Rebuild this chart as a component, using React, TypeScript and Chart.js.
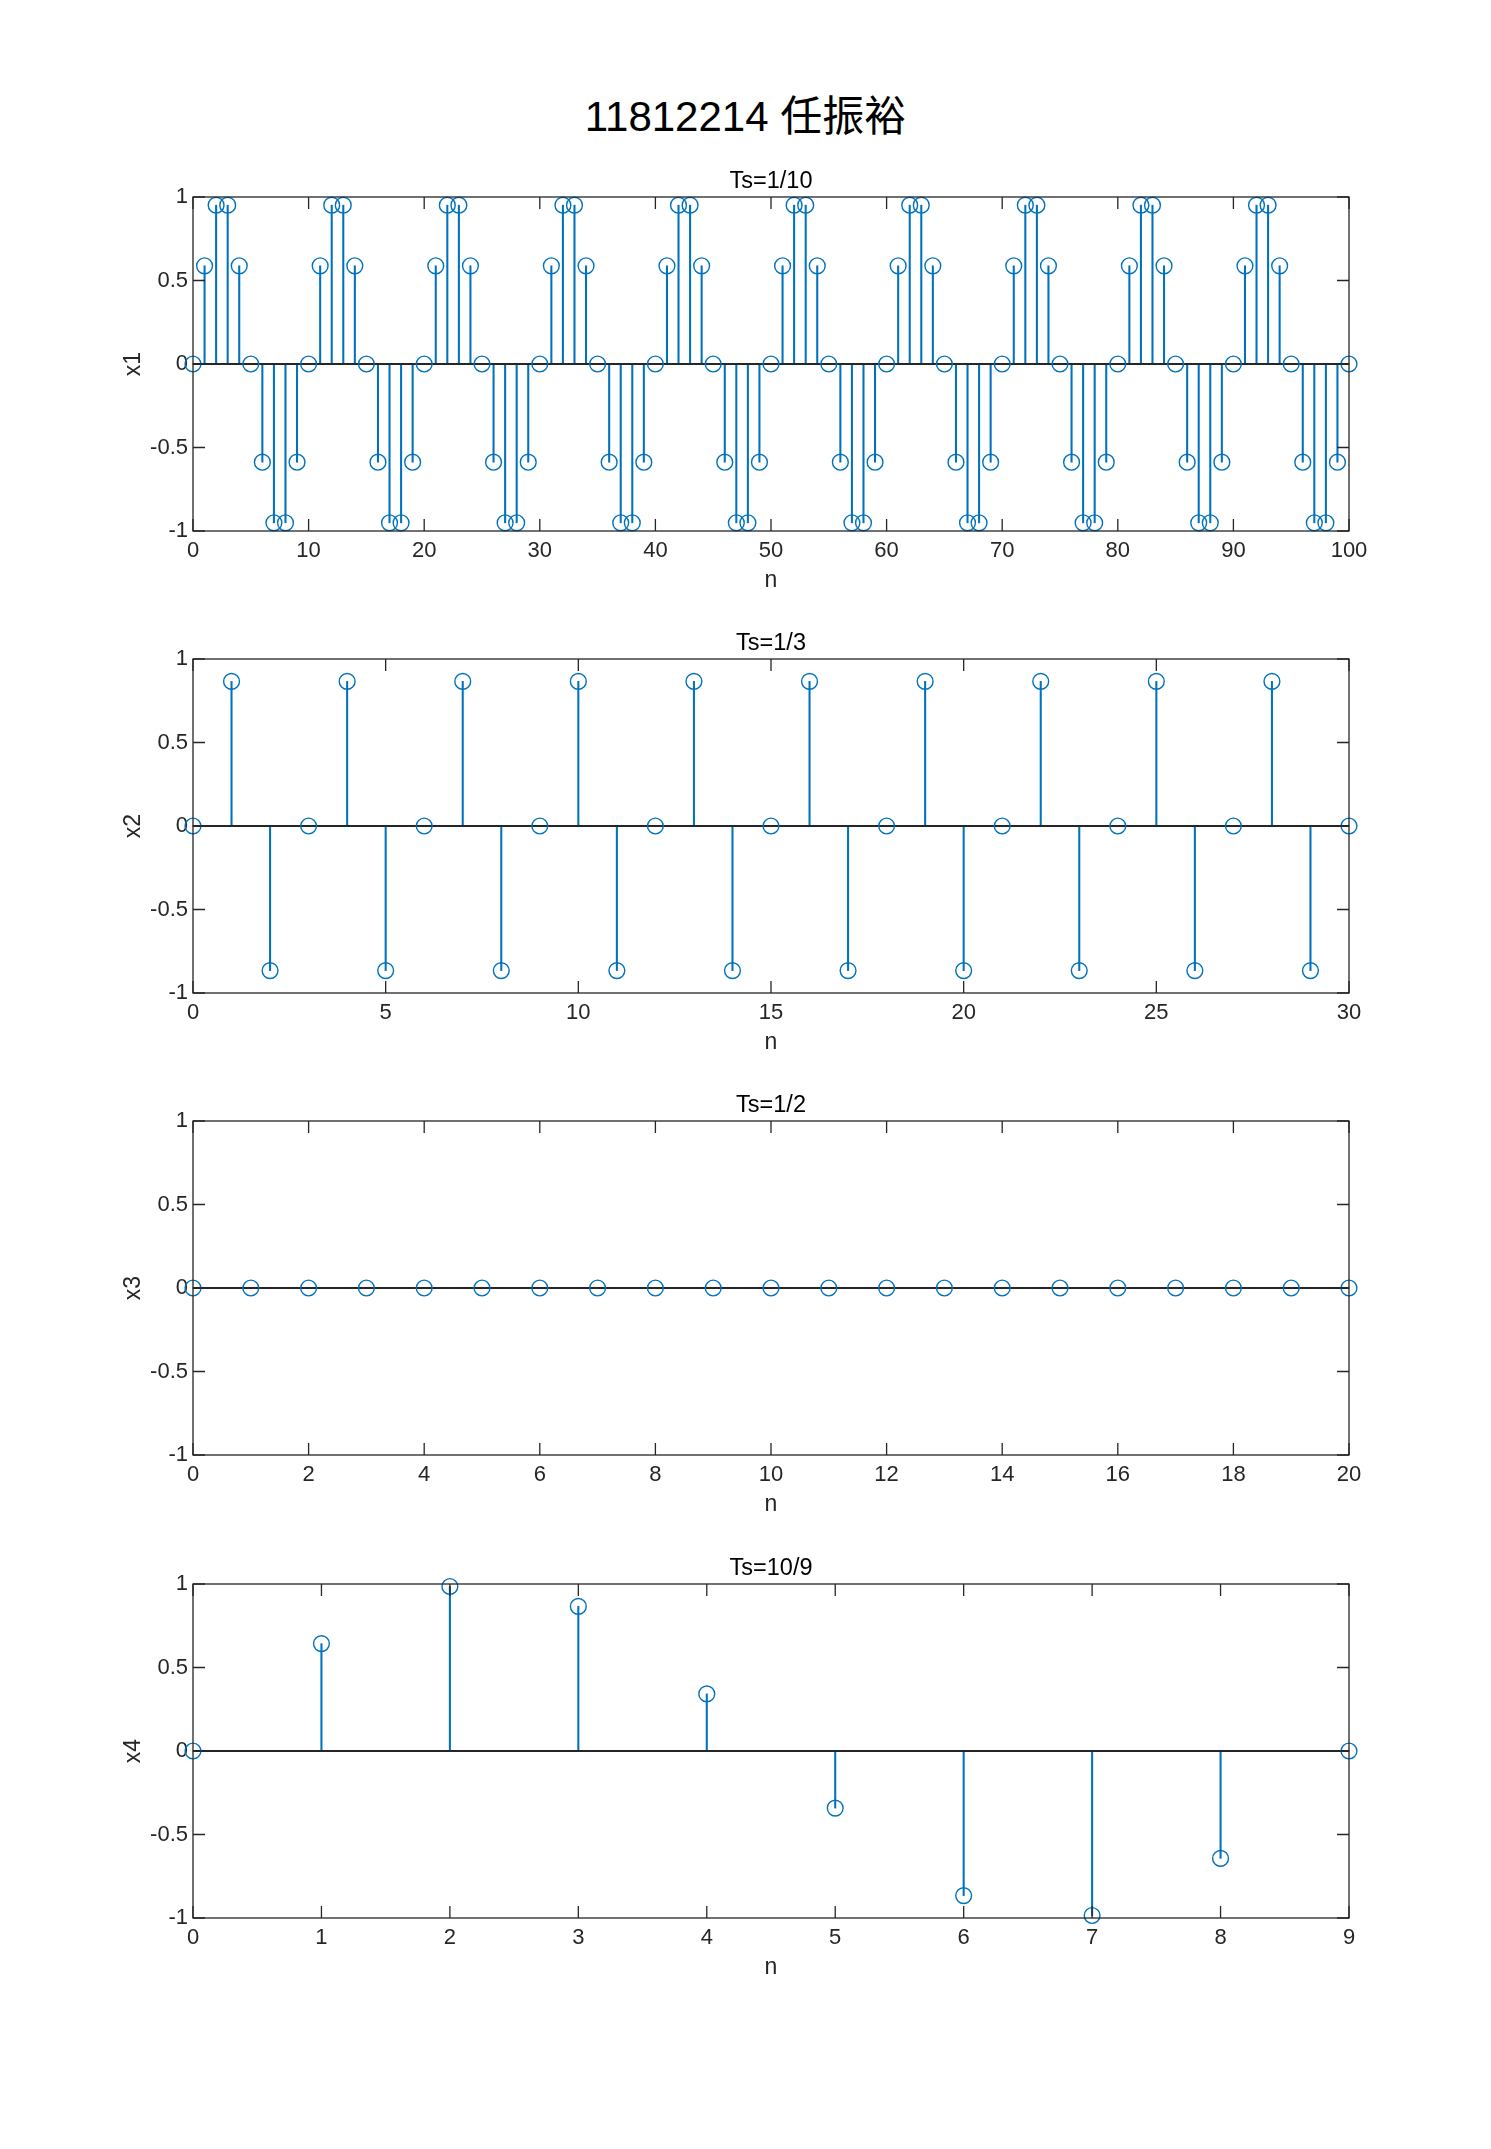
import React, { useEffect, useRef } from 'react';
import { Chart, registerables } from 'chart.js';

Chart.register(...registerables);

// ---------- data ----------
const figureTitle = '11812214 任振裕';

const x1Values = [
  0, 0.588, 0.951, 0.951, 0.588, 0, -0.588, -0.951, -0.951, -0.588,
  0, 0.588, 0.951, 0.951, 0.588, 0, -0.588, -0.951, -0.951, -0.588,
  0, 0.588, 0.951, 0.951, 0.588, 0, -0.588, -0.951, -0.951, -0.588,
  0, 0.588, 0.951, 0.951, 0.588, 0, -0.588, -0.951, -0.951, -0.588,
  0, 0.588, 0.951, 0.951, 0.588, 0, -0.588, -0.951, -0.951, -0.588,
  0, 0.588, 0.951, 0.951, 0.588, 0, -0.588, -0.951, -0.951, -0.588,
  0, 0.588, 0.951, 0.951, 0.588, 0, -0.588, -0.951, -0.951, -0.588,
  0, 0.588, 0.951, 0.951, 0.588, 0, -0.588, -0.951, -0.951, -0.588,
  0, 0.588, 0.951, 0.951, 0.588, 0, -0.588, -0.951, -0.951, -0.588,
  0, 0.588, 0.951, 0.951, 0.588, 0, -0.588, -0.951, -0.951, -0.588,
  0,
];

const x2Values = [
  0, 0.866, -0.866, 0, 0.866, -0.866, 0, 0.866, -0.866, 0,
  0.866, -0.866, 0, 0.866, -0.866, 0, 0.866, -0.866, 0, 0.866,
  -0.866, 0, 0.866, -0.866, 0, 0.866, -0.866, 0, 0.866, -0.866,
  0,
];

const x3Values = [
  0, 0, 0, 0, 0, 0, 0, 0, 0, 0,
  0, 0, 0, 0, 0, 0, 0, 0, 0, 0,
  0,
];

const x4Values = [0, 0.643, 0.985, 0.866, 0.342, -0.342, -0.866, -0.985, -0.643, 0];

const panelTitles = ['Ts=1/10', 'Ts=1/3', 'Ts=1/2', 'Ts=10/9'];
const panelYLabels = ['x1', 'x2', 'x3', 'x4'];
const panelXMax = [100, 30, 20, 9];
const panelXStep = [10, 5, 2, 1];
const panelValues = [x1Values, x2Values, x3Values, x4Values];
const xAxisLabel = 'n';
const yMin = -1;
const yMax = 1;
const yStep = 0.5;

// ---------- style / layout ----------
const BLUE = '#0072BD';
const AXIS = '#262626';
const FONT = "'Liberation Sans', Arial, Helvetica, sans-serif";
const PAGE_W = 1491;
const PAGE_H = 2149;
const PLOT_TOPS = [197, 659, 1121, 1584];
const PLOT_LEFT = 193;
const PLOT_RIGHT = 1349;
const PLOT_H = 334;
const TOP_SPACE = 40;
const X_AXIS_H = 67;
const Y_AXIS_W = 80;
const BOTTOM_PAD = 10;
const CANVAS_H = TOP_SPACE + PLOT_H + X_AXIS_H + BOTTOM_PAD;

const boxPlugin = {
  id: 'matlabBox',
  afterDraw(chart: any) {
    const { ctx, chartArea: a, scales } = chart;
    const x = scales.x;
    const y = scales.y;
    const L = 12;
    ctx.save();
    ctx.strokeStyle = AXIS;
    ctx.lineWidth = 1.3;
    ctx.strokeRect(a.left, a.top, a.right - a.left, a.bottom - a.top);
    ctx.beginPath();
    x.ticks.forEach((t: any) => {
      const px = x.getPixelForValue(t.value);
      ctx.moveTo(px, a.bottom);
      ctx.lineTo(px, a.bottom - L);
      ctx.moveTo(px, a.top);
      ctx.lineTo(px, a.top + L);
    });
    y.ticks.forEach((t: any) => {
      const py = y.getPixelForValue(t.value);
      ctx.moveTo(a.left, py);
      ctx.lineTo(a.left + L, py);
      ctx.moveTo(a.right, py);
      ctx.lineTo(a.right - L, py);
    });
    ctx.stroke();
    ctx.restore();
  },
};

function StemPanel({ idx }: { idx: number }) {
  const ref = useRef<HTMLCanvasElement | null>(null);
  useEffect(() => {
    const values = panelValues[idx];
    const xMax = panelXMax[idx];
    const pts = values.map((v, i) => ({ x: i, y: v }));
    const chart = new Chart(ref.current as HTMLCanvasElement, {
      type: 'scatter',
      data: {
        datasets: [
          {
            type: 'scatter',
            data: pts,
            pointStyle: 'circle',
            pointRadius: 7.9,
            pointBorderWidth: 1.4,
            pointBorderColor: BLUE,
            pointBackgroundColor: 'rgba(0,0,0,0)',
            clip: false,
            order: 0,
          } as any,
          {
            type: 'line',
            data: [
              { x: 0, y: 0 },
              { x: xMax, y: 0 },
            ],
            borderColor: AXIS,
            borderWidth: 2,
            pointRadius: 0,
            clip: false,
            order: 1,
          } as any,
          {
            type: 'bar',
            data: pts,
            backgroundColor: BLUE,
            barThickness: 1.4,
            borderWidth: 0,
            clip: false,
            order: 2,
          } as any,
        ],
      },
      options: {
        animation: false,
        responsive: false,
        devicePixelRatio: 1,
        events: [],
        layout: {
          padding: {
            left: PLOT_LEFT - Y_AXIS_W,
            right: PAGE_W - PLOT_RIGHT,
            top: 0,
            bottom: BOTTOM_PAD,
          },
        },
        plugins: {
          legend: { display: false },
          tooltip: { enabled: false },
          title: {
            display: true,
            text: panelTitles[idx],
            fullSize: false,
            color: '#000000',
            font: { family: FONT, size: 23.5, weight: 'normal', lineHeight: 1.2 },
            padding: { top: 10.6, bottom: 1.2 },
          },
        },
        scales: {
          x: {
            type: 'linear',
            min: 0,
            max: xMax,
            offset: false,
            grid: { display: false, drawTicks: false },
            border: { display: false },
            ticks: {
              stepSize: panelXStep[idx],
              padding: 7,
              color: AXIS,
              maxRotation: 0,
              autoSkip: false,
              font: { family: FONT, size: 22 },
              callback: (v: any) => String(v),
            },
            title: {
              display: true,
              text: xAxisLabel,
              color: AXIS,
              font: { family: FONT, size: 23, lineHeight: 1.2 },
              padding: { top: 0, bottom: 4 },
            },
            afterFit: (s: any) => {
              s.height = X_AXIS_H;
            },
          },
          y: {
            type: 'linear',
            min: yMin,
            max: yMax,
            grid: { display: false, drawTicks: false },
            border: { display: false },
            ticks: {
              stepSize: yStep,
              padding: 5,
              color: AXIS,
              font: { family: FONT, size: 22 },
              callback: (v: any) => String(v),
            },
            title: {
              display: true,
              text: panelYLabels[idx],
              color: AXIS,
              font: { family: FONT, size: 23, lineHeight: 1.2 },
              padding: { top: 6.5, bottom: 0 },
            },
            afterFit: (s: any) => {
              s.width = Y_AXIS_W;
            },
          },
        },
      } as any,
      plugins: [boxPlugin],
    });
    return () => chart.destroy();
  }, [idx]);

  return (
    <canvas
      ref={ref}
      width={PAGE_W}
      height={CANVAS_H}
      style={{
        position: 'absolute',
        left: 0,
        top: PLOT_TOPS[idx] - TOP_SPACE,
        width: PAGE_W,
        height: CANVAS_H,
      }}
    />
  );
}

export default function App() {
  return (
    <div
      style={{
        position: 'absolute',
        left: 0,
        top: 0,
        width: PAGE_W,
        height: PAGE_H,
        background: '#ffffff',
        overflow: 'hidden',
      }}
    >
      <div
        style={{
          position: 'absolute',
          left: 0,
          top: 96,
          width: PAGE_W,
          textAlign: 'center',
          fontFamily: "'Liberation Sans', Arial, 'Noto Sans CJK SC', sans-serif",
          fontSize: 42,
          lineHeight: '42px',
          color: '#000000',
          whiteSpace: 'nowrap',
        }}
      >
        {figureTitle}
      </div>
      {panelTitles.map((_, i) => (
        <StemPanel key={i} idx={i} />
      ))}
    </div>
  );
}
